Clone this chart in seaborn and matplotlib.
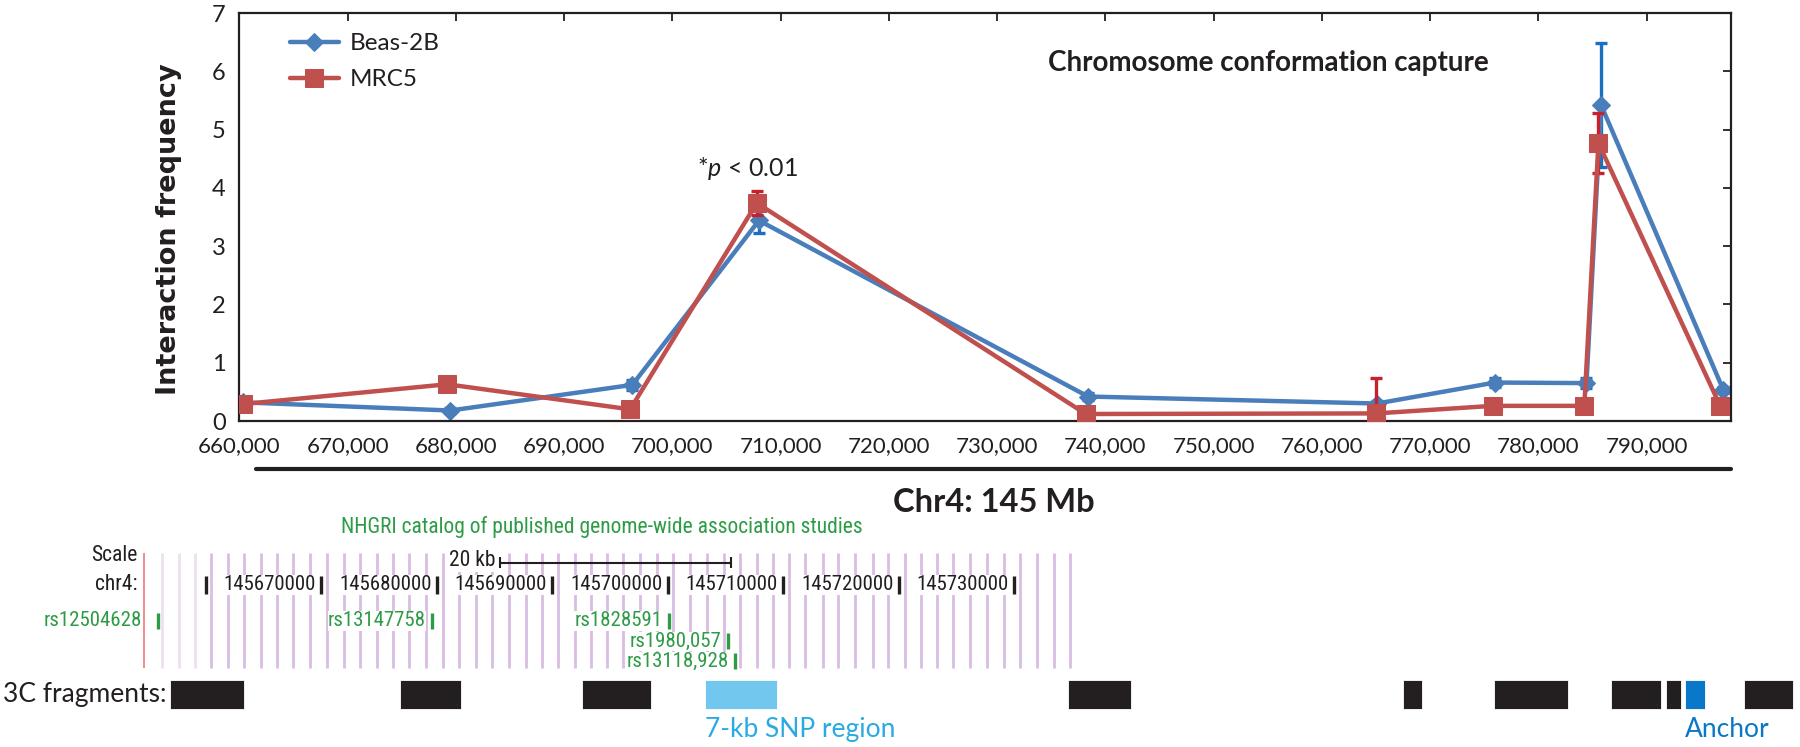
import numpy as np
import pandas as pd
import matplotlib
matplotlib.use("Agg")
import matplotlib.pyplot as plt
import seaborn as sns
from matplotlib import font_manager
from matplotlib.ticker import FuncFormatter

# 3C interaction frequencies (position on the chr4 window, bp)
beas_pos = [660300, 679500, 696300, 708000, 738400, 765100, 776000, 784450, 785800, 797100]
beas_freq = [0.32, 0.18, 0.62, 3.44, 0.42, 0.30, 0.66, 0.65, 5.42, 0.53]
beas_err = [0.03, 0.04, 0.08, 0.22, 0.06, 0.05, 0.07, 0.08, 1.06, 0.05]

mrc5_pos = [660300, 679200, 696100, 707800, 738200, 765000, 775800, 784250, 785550, 796800]
mrc5_freq = [0.29, 0.63, 0.20, 3.74, 0.12, 0.13, 0.26, 0.26, 4.77, 0.26]
mrc5_err = [0.03, 0.05, 0.04, 0.21, 0.03, 0.60, 0.06, 0.05, 0.52, 0.03]

x_ticks = [660000, 670000, 680000, 690000, 700000, 710000, 720000,
           730000, 740000, 750000, 760000, 770000, 780000, 790000]
y_ticks = [0, 1, 2, 3, 4, 5, 6, 7]

# genome browser track (chr4, kb)
browser_start_kb = 145654.7
browser_lines_kb = [
    145656.25, 145657.70, 145659.08, 145660.49, 145661.91, 145663.33, 145664.77,
    145666.18, 145667.57, 145669.01, 145670.49, 145671.96, 145673.37, 145674.81,
    145676.25, 145677.64, 145679.08, 145680.58, 145681.94, 145683.39, 145684.77,
    145686.27, 145687.71, 145689.10, 145690.54, 145691.98, 145693.34, 145694.78,
    145696.17, 145697.61, 145699.06, 145700.49, 145701.94, 145703.39, 145704.88,
    145706.27, 145707.72, 145709.15, 145710.54, 145711.90, 145713.43, 145714.78,
    145716.23, 145717.76, 145719.11, 145720.56, 145721.94, 145723.30, 145724.74,
    145726.18, 145727.68, 145729.13, 145730.51, 145732.01, 145733.46, 145734.84]
chr_ticks_kb = [145660, 145670, 145680, 145690, 145700, 145710, 145720, 145730]
chr_labels = ["", "145670000", "145680000", "145690000", "145700000",
              "145710000", "145720000", "145730000"]
scale_bar_kb = [145685.5, 145705.5]

snp_names = ["rs12504628", "rs13147758", "rs1828591", "rs1980,057", "rs13118,928"]
snp_kb = [145655.9, 145679.6, 145700.1, 145705.2, 145705.8]
snp_row = [0, 0, 0, 1, 2]

frag_start_kb = [145656.96, 145676.83, 145692.63, 145703.24, 145734.67, 145763.64,
                 145771.55, 145781.68, 145786.44, 145788.09, 145793.20]
frag_end_kb = [145663.33, 145682.11, 145698.56, 145709.47, 145740.12, 145765.32,
               145777.96, 145786.01, 145787.74, 145789.82, 145797.44]
frag_kind = ["other", "other", "other", "snp", "other", "other",
             "other", "other", "other", "anchor", "other"]

# fonts
sns.set_style("white")
names = {f.name for f in font_manager.fontManager.ttflist}
narrow = "Lato"
for cand in ["Liberation Sans Narrow", "Roboto Condensed", "Open Sans Condensed"]:
    if cand in names:
        narrow = cand
        break
plt.rcParams["font.family"] = ["Lato", "DejaVu Sans"]
plt.rcParams["mathtext.fontset"] = "custom"
plt.rcParams["mathtext.rm"] = "Lato"
plt.rcParams["mathtext.it"] = "Lato:italic"

BLUE = "#4a7ebb"
BLUE_ERR = "#1a6fc0"
RED = "#c0504d"
RED_ERR = "#c8202f"
INK = "#231f20"
GREEN = "#2e9b46"
NARROW = [narrow, "DejaVu Sans"]

W, H = 1800, 747
fig = plt.figure(figsize=(W / 100, H / 100), dpi=100)
ax = fig.add_axes([239.4 / W, 1 - 421 / H, 1491.6 / W, 408 / H])

df_b = pd.DataFrame({"pos": beas_pos, "freq": beas_freq})
df_m = pd.DataFrame({"pos": mrc5_pos, "freq": mrc5_freq})

ax.errorbar(beas_pos, beas_freq, yerr=beas_err, fmt="none", ecolor=BLUE_ERR,
            elinewidth=2.4, capsize=4.3, capthick=2.4, zorder=1.5)
sns.lineplot(data=df_b, x="pos", y="freq", ax=ax, color=BLUE, linewidth=3.2,
             marker="D", markersize=9.5, markeredgecolor=BLUE, label="Beas-2B", zorder=2)
ax.errorbar(mrc5_pos, mrc5_freq, yerr=mrc5_err, fmt="none", ecolor=RED_ERR,
            elinewidth=2.4, capsize=4.3, capthick=2.4, zorder=2.5)
sns.lineplot(data=df_m, x="pos", y="freq", ax=ax, color=RED, linewidth=3.2,
             marker="s", markersize=12.5, markeredgecolor=RED, label="MRC5", zorder=3)

ax.set_xlim(660000, 797800)
ax.set_ylim(0, 7)
ax.set_xticks(x_ticks)
ax.set_yticks(y_ticks)
ax.xaxis.set_major_formatter(FuncFormatter(lambda v, p: f"{int(v):,}"))
ax.tick_params(direction="in", top=True, right=True, length=6, width=1.3, colors=INK)
ax.tick_params(axis="y", pad=10, labelsize=17)
ax.tick_params(axis="x", pad=11, labelsize=16)
for s in ax.spines.values():
    s.set_visible(True)
    s.set_linewidth(1.6)
    s.set_color(INK)
ax.set_xlabel("")
ax.set_ylabel("Interaction frequency", fontsize=19.5, fontweight="bold",
              family=["DejaVu Sans"], va="center", color=INK)
ax.yaxis.set_label_coords(-0.0475, 0.47)

leg = ax.legend(loc="upper left", bbox_to_anchor=(0.034, 0.95), frameon=False,
                borderpad=0, borderaxespad=0, handlelength=2.0, handletextpad=0.45,
                labelspacing=0.6, fontsize=17.5)
for t in leg.get_texts():
    t.set_color(INK)

ax.text(706900, 4.34, "*$p$ < 0.01", fontsize=18, ha="center", va="center", color=INK)
ax.text(0.6896, 0.877, "Chromosome conformation capture", transform=ax.transAxes,
        fontsize=20, fontweight="bold", ha="center", va="center", color=INK)

# black bar and chromosome label under the axis
ax.plot([0.011, 1.0], [-0.1176, -0.1176], transform=ax.transAxes, clip_on=False,
        color=INK, linewidth=3)
ax.text(0.506, -0.199, "Chr4: 145 Mb", transform=ax.transAxes, fontsize=23.5,
        fontweight="bold", ha="center", va="center", color=INK)

# lower panel: y in figure pixel rows, x in chr4 kb
lx = fig.add_axes([0, 0, 1, 307 / H])
lx.set_xlim(145642.2, 145798.04)
lx.set_ylim(747, 440)
lx.axis("off")

kb_px = 10 / 115.5  # kb per pixel in the browser image

lx.text(145694.3, 527, "NHGRI catalog of published genome-wide association studies",
        family=NARROW, fontsize=15.5, color=GREEN, ha="center", va="center")
lx.text(browser_start_kb - 7 * kb_px, 556, "Scale", family=NARROW,
        fontsize=15.5, color=INK, ha="right", va="center")
lx.text(browser_start_kb - 7 * kb_px, 584.5, "chr4:", family=NARROW,
        fontsize=15.5, color=INK, ha="right", va="center")

for i, x in enumerate(browser_lines_kb):
    c = "#ece0f0" if i < 3 else "#d9bde2"
    lx.vlines(x, 553, 668, color=c, linewidth=2.0, zorder=1)
lx.vlines(browser_start_kb, 553, 668, color="#f07878", linewidth=1.2, zorder=2)

# scale bar
lx.plot(scale_bar_kb, [562.7, 562.7], color=INK, linewidth=1.5, zorder=3)
lx.vlines(scale_bar_kb, 557, 568, color=INK, linewidth=1.5, zorder=3)
lx.text(scale_bar_kb[0] - 5 * kb_px, 560.5, "20 kb", family=NARROW,
        fontsize=15.5, color=INK, ha="right", va="center", zorder=4,
        bbox=dict(facecolor="white", edgecolor="none", pad=0.5))

# chromosome ruler
for x, lab in zip(chr_ticks_kb, chr_labels):
    lx.vlines(x, 576, 594, color=INK, linewidth=2.4, zorder=4)
    if lab:
        lx.text(x - 5 * kb_px, 585, lab, family=NARROW, fontsize=15,
                color=INK, ha="right", va="center", zorder=4,
                bbox=dict(facecolor="white", edgecolor="none", pad=0.5))

# GWAS SNPs
snp_rows_y = [621, 641.5, 661.5]
for name, x, r in zip(snp_names, snp_kb, snp_row):
    y = snp_rows_y[r]
    lx.vlines(x, y - 8, y + 8, color=GREEN, linewidth=2.4, zorder=4)
    tx = x - 6 * kb_px
    if x - browser_start_kb < 5:
        tx = browser_start_kb - 2 * kb_px
    lx.text(tx, y, name, family=NARROW, fontsize=15, color=GREEN,
            ha="right", va="center", zorder=4,
            bbox=dict(facecolor="white", edgecolor="none", pad=0.3))

# 3C fragments
frag_colors = {"other": INK, "snp": "#72c7ef", "anchor": "#0a78c8"}
for s, e, k in zip(frag_start_kb, frag_end_kb, frag_kind):
    lx.bar(s, 29, width=e - s, bottom=680, align="edge", color=frag_colors[k],
           edgecolor="white", linewidth=0.6)
lx.text(145642.5, 695, "3C fragments:", fontsize=19, color=INK, ha="left", va="center")
for s, k in zip(frag_start_kb, frag_kind):
    if k == "snp":
        lx.text(s, 730, "7-kb SNP region", fontsize=19, color="#29abe2", ha="left", va="center")
    elif k == "anchor":
        lx.text(s, 730, "Anchor", fontsize=19, color="#0a78c8", ha="left", va="center")

fig.savefig("out.png", dpi=100)
